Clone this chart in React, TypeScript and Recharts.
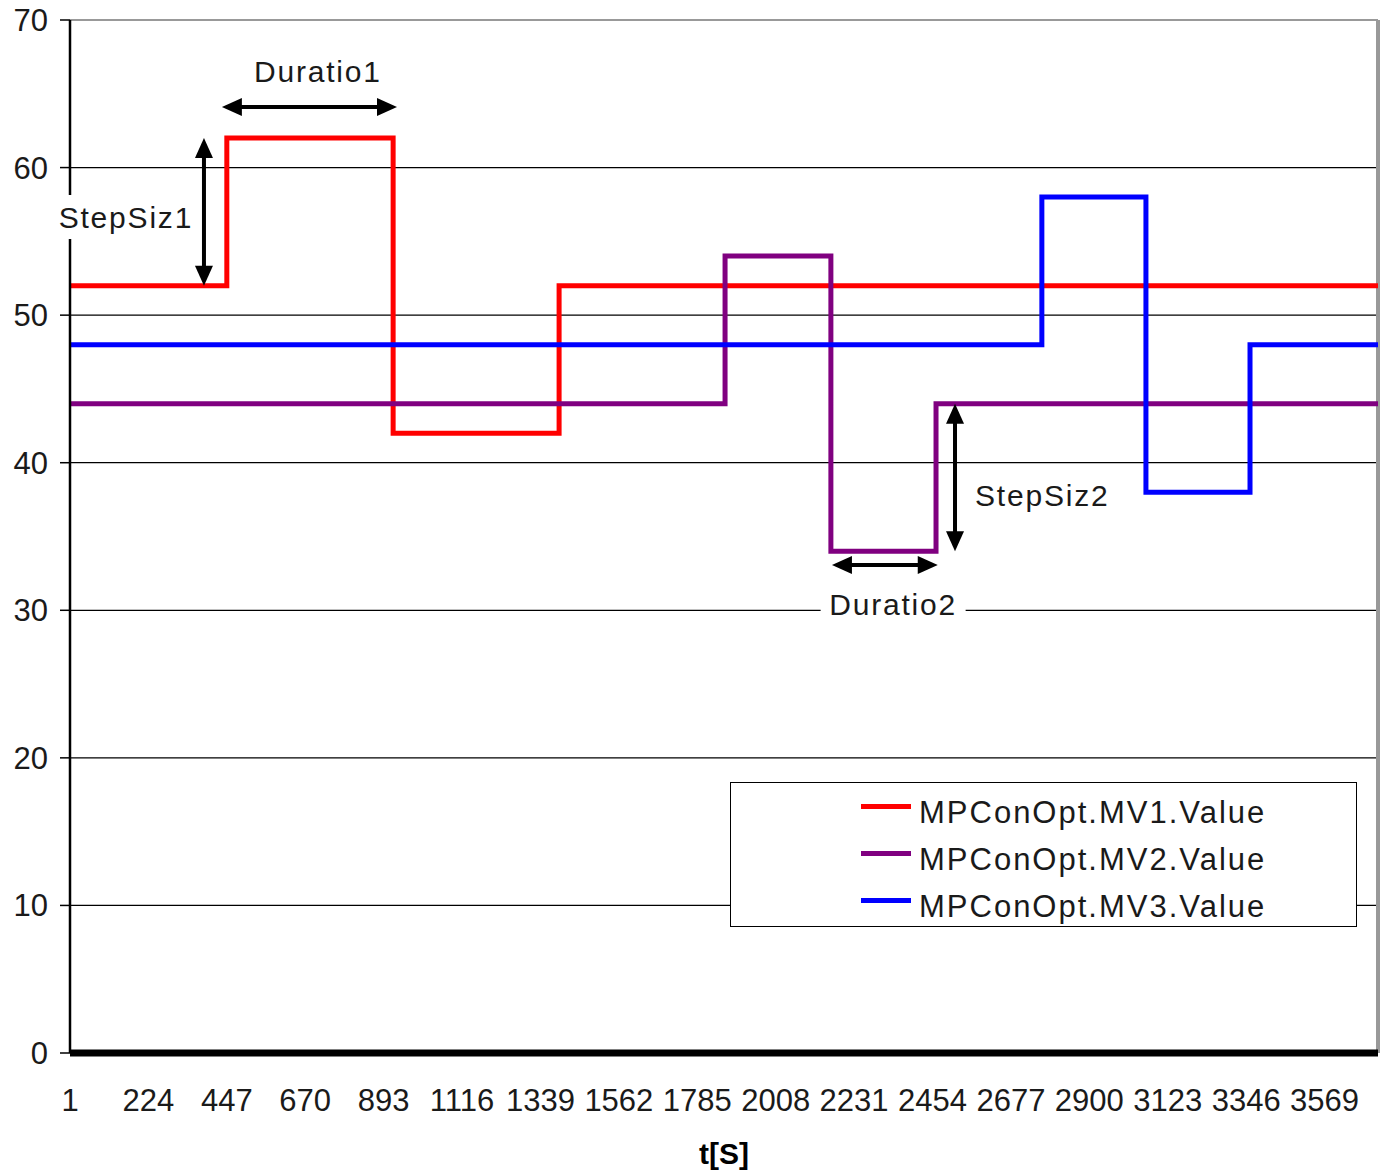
import {
    LineChart,
    Line,
    XAxis,
    YAxis,
    CartesianGrid,
    ReferenceLine,
    ReferenceDot,
    Legend,
} from 'recharts';

// step change points (t) and levels for each manipulated variable
const mv1Times = [1, 447, 920, 1392, 3721];
const mv1Values = [52, 62, 42, 52, 52];
const mv2Times = [1, 1864, 2165, 2464, 3721];
const mv2Values = [44, 54, 34, 44, 44];
const mv3Times = [1, 2765, 3061, 3357, 3721];
const mv3Values = [48, 58, 38, 48, 48];

const xTicks = [1, 224, 447, 670, 893, 1116, 1339, 1562, 1785, 2008, 2231, 2454, 2677, 2900, 3123, 3346, 3569];
const yTicks = [0, 10, 20, 30, 40, 50, 60, 70];

const series = [
    { name: 'MPConOpt.MV1.Value', color: '#ff0000', times: mv1Times, values: mv1Values },
    { name: 'MPConOpt.MV2.Value', color: '#800080', times: mv2Times, values: mv2Values },
    { name: 'MPConOpt.MV3.Value', color: '#0000ff', times: mv3Times, values: mv3Values },
];

// double arrows: [from, to] in data units
const arrows = [
    [{ x: 382, y: 62 }, { x: 382, y: 52 }],
    [{ x: 433, y: 64.1 }, { x: 931, y: 64.1 }],
    [{ x: 2518, y: 44 }, { x: 2518, y: 34 }],
    [{ x: 2168, y: 33.07 }, { x: 2469, y: 33.07 }],
];

const notes = [
    { text: 'Duratio1', t: 706, v: 66.5, anchor: 'middle', bg: false },
    { text: 'StepSiz1', t: 160, v: 56.65, anchor: 'middle', bg: true },
    { text: 'StepSiz2', t: 2575, v: 37.8, anchor: 'start', bg: false },
    { text: 'Duratio2', t: 2342, v: 30.4, anchor: 'middle', bg: true },
];

const FONT = '"Liberation Sans", Arial, sans-serif';

const DoubleArrow = (p: any) => {
    const { x1, y1, x2, y2 } = p;
    const dx = x2 - x1;
    const dy = y2 - y1;
    const len = Math.hypot(dx, dy) || 1;
    const ux = dx / len;
    const uy = dy / len;
    const head = 20;
    const half = 9;
    const tri = (tx: number, ty: number, sx: number, sy: number) => {
        const bx = tx + sx * head;
        const by = ty + sy * head;
        return `${tx},${ty} ${bx - sy * half},${by + sx * half} ${bx + sy * half},${by - sx * half}`;
    };
    return (
        <g>
            <line x1={x1 + ux * 10} y1={y1 + uy * 10} x2={x2 - ux * 10} y2={y2 - uy * 10} stroke="#000" strokeWidth={4} />
            <polygon points={tri(x1, y1, ux, uy)} fill="#000" />
            <polygon points={tri(x2, y2, -ux, -uy)} fill="#000" />
        </g>
    );
};

const makeNote = (n: (typeof notes)[number]) => (p: any) => {
    const { cx, cy } = p;
    const w = 145;
    const left = n.anchor === 'middle' ? cx - w / 2 : cx - 2;
    return (
        <g>
            {n.bg && <rect x={left} y={cy - 22} width={w} height={44} fill="#fff" />}
            <text
                x={cx}
                y={cy}
                dy="0.36em"
                textAnchor={n.anchor}
                fontFamily={FONT}
                fontSize={30}
                letterSpacing={1.8}
                fill="#1a1a1a"
            >
                {n.text}
            </text>
        </g>
    );
};

const LegendBox = () => (
    <div
        style={{
            width: 627,
            height: 145,
            boxSizing: 'border-box',
            border: '1.5px solid #000',
            background: '#fff',
            fontFamily: FONT,
            fontSize: 31,
            letterSpacing: 2,
            color: '#1a1a1a',
            paddingTop: 6,
        }}
    >
        {series.map((s) => (
            <div key={s.name} style={{ display: 'flex', alignItems: 'center', height: 47, paddingLeft: 130 }}>
                <span style={{ display: 'inline-block', width: 50, height: 5, background: s.color, marginRight: 8, marginTop: -12 }} />
                <span>{s.name}</span>
            </div>
        ))}
    </div>
);

export default function App() {
    return (
        <div style={{ position: 'absolute', left: 0, top: 0, background: '#fff' }}>
            <LineChart width={1386} height={1172} margin={{ top: 20, right: 8, bottom: 0, left: 0 }}>
                <CartesianGrid vertical={false} stroke="#000" strokeWidth={1.2} />
                <XAxis
                    type="number"
                    dataKey="t"
                    domain={[1, 3721]}
                    ticks={xTicks}
                    interval={0}
                    height={119}
                    tickLine={false}
                    tickMargin={30}
                    axisLine={{ stroke: '#000', strokeWidth: 7 }}
                    tick={{ fill: '#1a1a1a', fontSize: 31, fontFamily: FONT }}
                    label={{
                        value: 't[S]',
                        position: 'insideBottom',
                        offset: 8,
                        style: { fontFamily: FONT, fontSize: 30, fontWeight: 'bold', fill: '#000' },
                    }}
                />
                <YAxis
                    type="number"
                    domain={[0, 70]}
                    ticks={yTicks}
                    width={70}
                    tickSize={10}
                    tickMargin={12}
                    axisLine={{ stroke: '#000', strokeWidth: 2.5 }}
                    tickLine={{ stroke: '#000', strokeWidth: 1.5 }}
                    tick={{ fill: '#1a1a1a', fontSize: 31, fontFamily: FONT }}
                />
                <ReferenceLine y={70} stroke="#999" strokeWidth={2} />
                <ReferenceLine x={3721} stroke="#999" strokeWidth={4} />
                {series.map((s) => (
                    <Line
                        key={s.name}
                        name={s.name}
                        data={s.times.map((t, i) => ({ t, v: s.values[i] }))}
                        dataKey="v"
                        type="stepAfter"
                        stroke={s.color}
                        strokeWidth={5}
                        dot={false}
                        isAnimationActive={false}
                    />
                ))}
                {notes.map((n) => (
                    <ReferenceDot key={n.text} x={n.t} y={n.v} shape={makeNote(n)} />
                ))}
                {arrows.map((a, i) => (
                    <ReferenceLine key={i} segment={a} shape={DoubleArrow} />
                ))}
                <Legend
                    layout="horizontal"
                    verticalAlign="middle"
                    wrapperStyle={{ position: 'absolute', left: 730, top: 782, width: 627, height: 145 }}
                    content={() => <LegendBox />}
                />
            </LineChart>
        </div>
    );
}
